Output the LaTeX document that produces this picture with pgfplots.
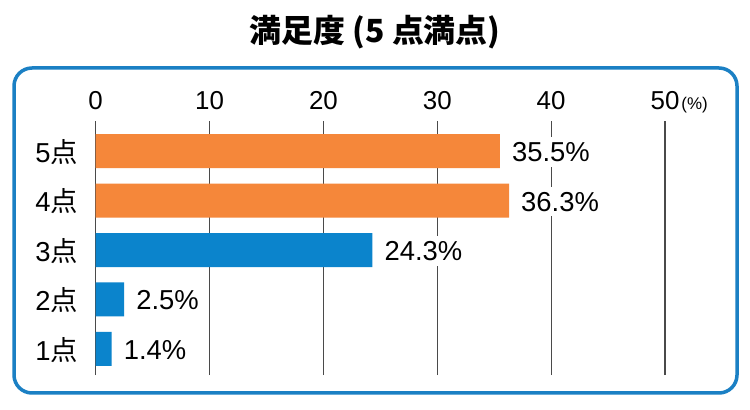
\documentclass[border=0pt]{standalone}
\usepackage{pgfplots}
\pgfplotsset{compat=1.18}
\usepackage{fontspec}
\setmainfont{Liberation Sans}
\newfontfamily\jp{Noto Sans CJK JP}
\definecolor{barorange}{HTML}{F5873A}
\definecolor{barblue}{HTML}{0B84CC}
\definecolor{boxblue}{HTML}{1B80C4}
\definecolor{gridgray}{HTML}{4A4A4A}
\newcommand{\ylab}[1]{#1{\jp 点}}
\begin{document}
\begin{tikzpicture}
\path[use as bounding box, fill=white] (0bp,0bp) rectangle (750bp,410bp);
\draw[line width=3.5bp, boxblue, rounded corners=18bp] (14bp,342bp) rectangle (737bp,17bp);
\node[font=\jp\bfseries\fontsize{32}{32}\selectfont] at (375bp,378bp) {満足度 (5 点満点)};
\begin{axis}[
  at={(95.7bp,35bp)}, anchor=south west,
  width=569.3bp, height=254.3bp, scale only axis,
  xmin=0, xmax=50, ymin=0.472, ymax=5.615,
  /pgf/number format/assume math mode=true,
  xtick={0,10,20,30,40,50},
  xticklabels={0,10,20,30,40,{50\rlap{\hspace{2bp}\fontsize{17}{17}\selectfont(\%)}}},
  xticklabel pos=upper,
  xticklabel style={anchor=base, yshift=11.4bp, inner sep=0pt, font=\fontsize{26}{26}\selectfont},
  ytick={1,2,3,4,5},
  yticklabels={\ylab{1},\ylab{2},\ylab{3},\ylab{4},\ylab{5}},
  yticklabel style={anchor=base east, xshift=-17.5bp, yshift=-11.3bp, inner sep=0pt, font=\fontsize{27.5}{27.5}\selectfont},
  major tick length=0pt,
  axis line style={draw=none},
  tick style={draw=none},
  xmajorgrids, grid style={gridgray, line width=1.1bp},
  xbar, bar width=34bp, bar shift=0pt,
  nodes near coords={\pgfmathprintnumber[fixed,precision=1,fixed zerofill,assume math mode=true]{\pgfplotspointmeta}\%},
  point meta=x,
  nodes near coords style={anchor=base west, xshift=7bp, yshift=-10.5bp, inner sep=5bp, fill=white, font=\fontsize{27.5}{27.5}\selectfont},
]
\addplot[draw=none, fill=barorange] coordinates {(35.5,5) (36.3,4)};
\addplot[draw=none, fill=barblue] coordinates {(24.3,3) (2.5,2) (1.4,1)};
\end{axis}
\end{tikzpicture}
\end{document}
